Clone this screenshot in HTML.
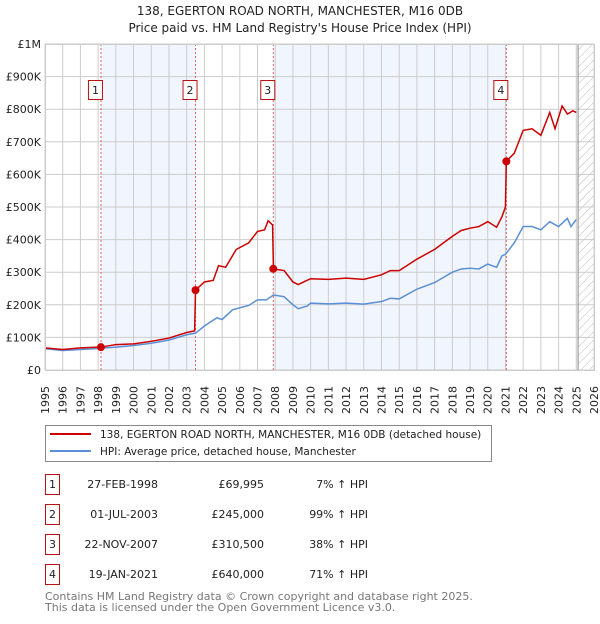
<!DOCTYPE html>
<html><head><meta charset="utf-8"><style>
body{margin:0;background:#fff;font-family:"DejaVu Sans","Liberation Sans",sans-serif;}
svg text{font-family:"DejaVu Sans","Liberation Sans",sans-serif;}
</style></head><body>
<svg id="c" width="600" height="620" xmlns="http://www.w3.org/2000/svg">
<defs><pattern id="hatch" width="6" height="6" patternUnits="userSpaceOnUse" patternTransform="rotate(45)"><line x1="0" y1="0" x2="0" y2="6" stroke="#bbb" stroke-width="1"/></pattern></defs>
<text x="300" y="15" text-anchor="middle" font-size="12" fill="#222">138, EGERTON ROAD NORTH, MANCHESTER, M16 0DB</text>
<text x="300" y="32" text-anchor="middle" font-size="12" fill="#222">Price paid vs. HM Land Registry's House Price Index (HPI)</text>
<g id="plot"></g>
<g>
<rect x="45.5" y="425.5" width="446" height="36" fill="#fff" stroke="#888"/>
<line x1="50" y1="434" x2="91" y2="434" stroke="#cc0000" stroke-width="2"/>
<text x="100" y="438" font-size="10.5" fill="#222">138, EGERTON ROAD NORTH, MANCHESTER, M16 0DB (detached house)</text>
<line x1="50" y1="451" x2="91" y2="451" stroke="#5b8fd6" stroke-width="2"/>
<text x="100" y="455" font-size="10.5" fill="#222">HPI: Average price, detached house, Manchester</text>
</g>
<g id="table"></g>
<text x="45" y="600" font-size="11" fill="#777">Contains HM Land Registry data © Crown copyright and database right 2025.</text>
<text x="45" y="611" font-size="11" fill="#777">This data is licensed under the Open Government Licence v3.0.</text>
</svg>
<script>
const yearTicks=[1995,1996,1997,1998,1999,2000,2001,2002,2003,2004,2005,2006,2007,2008,2009,2010,2011,2012,2013,2014,2015,2016,2017,2018,2019,2020,2021,2022,2023,2024,2025,2026];
const valueTicks=[0,100000,200000,300000,400000,500000,600000,700000,800000,900000,1000000];
const valueLabels=["£0","£100K","£200K","£300K","£400K","£500K","£600K","£700K","£800K","£900K","£1M"];
const hpiT=[1995,1996,1997,1998,1999,2000,2001,2002,2003,2003.5,2004,2004.7,2005,2005.6,2006.5,2007,2007.5,2007.9,2008.5,2009,2009.3,2009.8,2010,2011,2012,2013,2014,2014.5,2015,2016,2017,2018,2018.5,2019,2019.5,2020,2020.5,2020.8,2021,2021.5,2022,2022.5,2023,2023.5,2024,2024.5,2024.7,2025];
const hpiV=[65,60,63,66,70,75,82,92,108,113,135,160,155,185,198,215,215,230,225,200,188,196,205,203,205,202,210,220,218,248,268,300,310,312,310,325,315,350,355,390,440,440,430,455,440,465,440,462];
const propT=[1995,1996,1997,1998,1998.15,1999,2000,2001,2002,2003,2003.45,2003.5,2004,2004.5,2004.8,2005.2,2005.8,2006.5,2007,2007.4,2007.6,2007.85,2007.9,2008.5,2009,2009.3,2009.8,2010,2011,2012,2013,2014,2014.5,2015,2016,2017,2018,2018.5,2019,2019.5,2020,2020.5,2020.8,2021,2021.05,2021.5,2022,2022.5,2023,2023.5,2023.8,2024.2,2024.5,2024.8,2025];
const propV=[68,63,68,70,70,78,80,88,98,115,120,245,270,275,320,315,370,390,425,430,458,445,310,305,270,262,275,280,278,282,278,292,305,305,340,370,410,428,435,440,455,438,470,500,640,665,735,740,720,790,740,810,785,795,790];
const saleT=[1998.16,2003.5,2007.89,2021.05];
const saleV=[69995,245000,310500,640000];
const saleLabels=["1","2","3","4"];
const saleDates=["27-FEB-1998","01-JUL-2003","22-NOV-2007","19-JAN-2021"];
const salePrices=["£69,995","£245,000","£310,500","£640,000"];
const salePct=["7%","99%","38%","71%"];
const hatchStart=2025.1;

const NS="http://www.w3.org/2000/svg";
const X0=45,X1=594,Y0=370,Y1=44;
const xs=t=>X0+(t-1995)/(2026-1995)*(X1-X0);
const ys=v=>Y0-v/1000000*(Y0-Y1);
const plot=document.getElementById('plot');
function el(tag,attrs,parent){const e=document.createElementNS(NS,tag);for(const k in attrs)e.setAttribute(k,attrs[k]);(parent||plot).appendChild(e);return e;}

for(let i=0;i<saleT.length;i+=2){
  const r=el('rect',{x:xs(saleT[i]),y:Y1,width:xs(saleT[i+1])-xs(saleT[i]),height:Y0-Y1,fill:'#eef3fd',opacity:0.8});
  
  
}
const h=el('rect',{x:xs(hatchStart),y:Y1,width:X1-xs(hatchStart),height:Y0-Y1,fill:'url(#hatch)'});


yearTicks.forEach(t=>{
  const l=el('line',{x1:xs(t),x2:xs(t),y1:Y1,y2:Y0,stroke:'#ccc','stroke-width':1});
  
  
  const tx=el('text',{transform:`translate(${xs(t)+4},${Y0+44}) rotate(-90)`,'font-size':11,fill:'#222'});
  tx.textContent=t;
  
  
});
valueTicks.forEach((v,i)=>{
  const l=el('line',{x1:X0,x2:X1,y1:ys(v),y2:ys(v),stroke:'#ccc','stroke-width':1});
  
  
  const tx=el('text',{x:X0-4,y:ys(v)+4,'text-anchor':'end','font-size':11,fill:'#222'});
  tx.textContent=valueLabels[i];
  
  
});
const vl=el('line',{x1:xs(hatchStart),x2:xs(hatchStart),y1:Y1,y2:Y0,stroke:'#888','stroke-width':1});


saleT.forEach((t,i)=>{
  const l=el('line',{x1:xs(t),x2:xs(t),y1:Y1,y2:Y0,stroke:'#e06060','stroke-width':1,'stroke-dasharray':'2,2'});
  
  
});
const hp=el('polyline',{points:hpiT.map((t,i)=>xs(t)+','+ys(hpiV[i]*1000)).join(' '),fill:'none',stroke:'#5b8fd6','stroke-width':1.5});


const pp=el('polyline',{points:propT.map((t,i)=>xs(t)+','+ys(propV[i]*1000)).join(' '),fill:'none',stroke:'#cc0000','stroke-width':1.5});


saleT.forEach((t,i)=>{
  const c=el('circle',{cx:xs(t),cy:ys(saleV[i]),r:4,fill:'#cc0000'});
  
  
  const g=el('g',{});
  
  
  el('rect',{x:xs(t)-12.5,y:80.5,width:14,height:19,fill:'#fff',stroke:'#bb1111'},g);
  const tx=el('text',{x:xs(t)-5.5,y:94,'text-anchor':'middle','font-size':11,fill:'#222'},g);
  tx.textContent=saleLabels[i];
});
el('rect',{x:X0+0.5,y:Y1+0.5,width:X1-X0,height:Y0-Y1,fill:'none',stroke:'#ccc'});

const tb=document.getElementById('table');
saleLabels.forEach((s,i)=>{
  const cy=484+i*30;
  const g=el('g',{},tb);
  
  
  el('rect',{x:45.5,y:cy-9.5,width:14,height:20,fill:'#fff',stroke:'#bb1111'},g);
  const a=el('text',{x:52.5,y:cy+4,'text-anchor':'middle','font-size':11,fill:'#222'},g);a.textContent=s;
  const d=el('text',{x:158,y:cy+4,'text-anchor':'end','font-size':11,fill:'#222'},g);d.textContent=saleDates[i];
  const p=el('text',{x:264,y:cy+4,'text-anchor':'end','font-size':11,fill:'#222'},g);p.textContent=salePrices[i];
  const q=el('text',{x:368,y:cy+4,'text-anchor':'end','font-size':11,fill:'#222'},g);q.textContent=salePct[i]+' ↑ HPI';
});
</script>
</body></html>
